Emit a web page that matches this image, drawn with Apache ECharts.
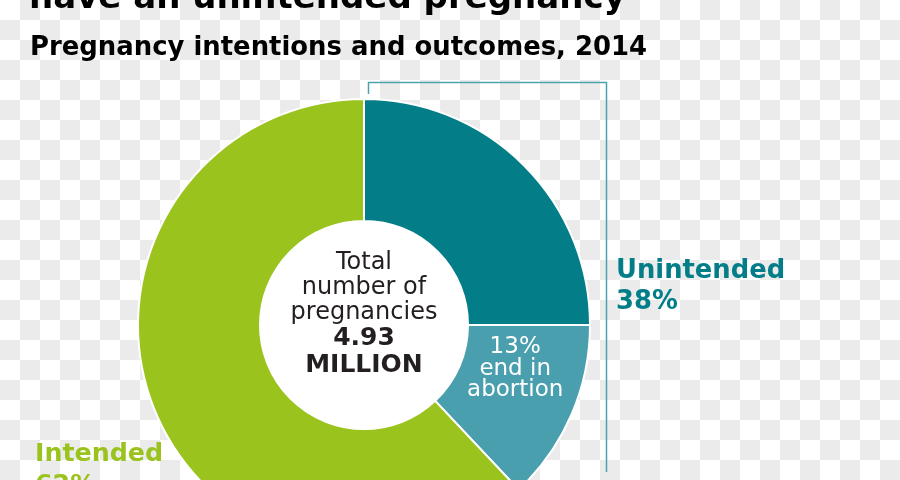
<!DOCTYPE html>
<html>
<head>
<meta charset="utf-8">
<script src="https://cdn.jsdelivr.net/npm/echarts@6/dist/echarts.min.js"></script>
<style>
html, body { margin: 0; padding: 0; }
#chart {
  width: 900px; height: 480px;
  background: conic-gradient(#ebebeb 0 25%, #ffffff 0 50%, #ebebeb 0 75%, #ffffff 0) 0 0 / 40px 40px;
}
</style>
</head>
<body>
<div id="chart"></div>
<script>
// ---- data ----
const titleText = 'have an unintended pregnancy';
const subtitleText = 'Pregnancy intentions and outcomes, 2014';
const categories = ['Unintended, other outcomes', 'Unintended, end in abortion', 'Intended'];
const values = [25, 13, 62];
const centerLines = ['Total', 'number of', 'pregnancies'];
const totalValue = '4.93';
const totalUnit = 'MILLION';
const unintendedLabel = 'Unintended';
const intendedLabel = 'Intended';

// ---- styles ----
const colors = ['#037E88', '#4A9FAE', '#9BC31E'];
const darkText = '#231F20';
const font = 'DejaVu Sans';

const unintendedPct = values[0] + values[1];
const intendedPct = values[2];

const chart = echarts.init(document.getElementById('chart'), null, { renderer: 'canvas' });

const option = {
  animation: false,
  backgroundColor: 'transparent',
  graphic: [
    {
      type: 'text', x: 29, y: -0.5, silent: true,
      style: { text: titleText, fill: '#000', fontFamily: font, fontWeight: 'bold', fontSize: 34,
        align: 'left', verticalAlign: 'middle', textAlign: 'left', textVerticalAlign: 'middle' }
    },
    {
      type: 'text', x: 30, y: 48.5, silent: true,
      style: { text: subtitleText, fill: '#000', fontFamily: font, fontWeight: 'bold', fontSize: 25.9,
        align: 'left', verticalAlign: 'middle', textAlign: 'left', textVerticalAlign: 'middle' }
    },
    {
      type: 'polyline', silent: true,
      shape: { points: [[368.5, 94], [368.5, 82.5], [606.5, 82.5], [606.5, 472]] },
      style: { stroke: '#4BA3B0', lineWidth: 1.5, fill: null }
    },
    {
      type: 'text', x: 616, y: 256, silent: true,
      style: { text: unintendedLabel + '\n' + unintendedPct + '%', fill: colors[0], fontFamily: font,
        fontWeight: 'bold', fontSize: 25.8, lineHeight: 31,
        align: 'left', verticalAlign: 'top', textAlign: 'left', textVerticalAlign: 'top' }
    },
    {
      type: 'text', x: 35, y: 438.5, silent: true,
      style: { text: intendedLabel + '\n' + intendedPct + '%', fill: colors[2], fontFamily: font,
        fontWeight: 'bold', fontSize: 25.3, lineHeight: 31,
        align: 'left', verticalAlign: 'top', textAlign: 'left', textVerticalAlign: 'top' }
    }
  ],
  series: [
    {
      type: 'pie',
      center: [364, 325],
      radius: [104, 226],
      startAngle: 90,
      clockwise: true,
      silent: true,
      itemStyle: { borderColor: '#ffffff', borderWidth: 2 },
      label: { show: false },
      labelLine: { show: false },
      labelLayout: (p) => (p.dataIndex === 1 ? { dx: -3, dy: -23 } : {}),
      data: values.map((v, i) => {
        const d = { name: categories[i], value: v, itemStyle: { color: colors[i] } };
        if (i === 1) {
          d.label = {
            show: true, position: 'inside',
            formatter: (p) => p.value + '%\nend in\nabortion',
            color: '#ffffff', fontFamily: font, fontSize: 23, lineHeight: 21.5
          };
        }
        return d;
      })
    },
    {
      type: 'pie',
      center: [364, 325],
      radius: [0, 104],
      silent: true,
      itemStyle: { color: '#ffffff' },
      labelLine: { show: false },
      label: {
        show: true, position: 'center',
        padding: [0, 0, 21, 0],
        formatter: () => centerLines.map(s => '{a|' + s + '}').join('\n') + '\n{b|' + totalValue + '}\n{b|' + totalUnit + '}',
        rich: {
          a: { fontFamily: font, fontSize: 24, lineHeight: 25, color: darkText },
          b: { fontFamily: font, fontSize: 25, fontWeight: 'bold', lineHeight: 27, color: darkText }
        }
      },
      data: [{ name: 'Total', value: 1 }]
    }
  ]
};

chart.setOption(option);
</script>
</body>
</html>
